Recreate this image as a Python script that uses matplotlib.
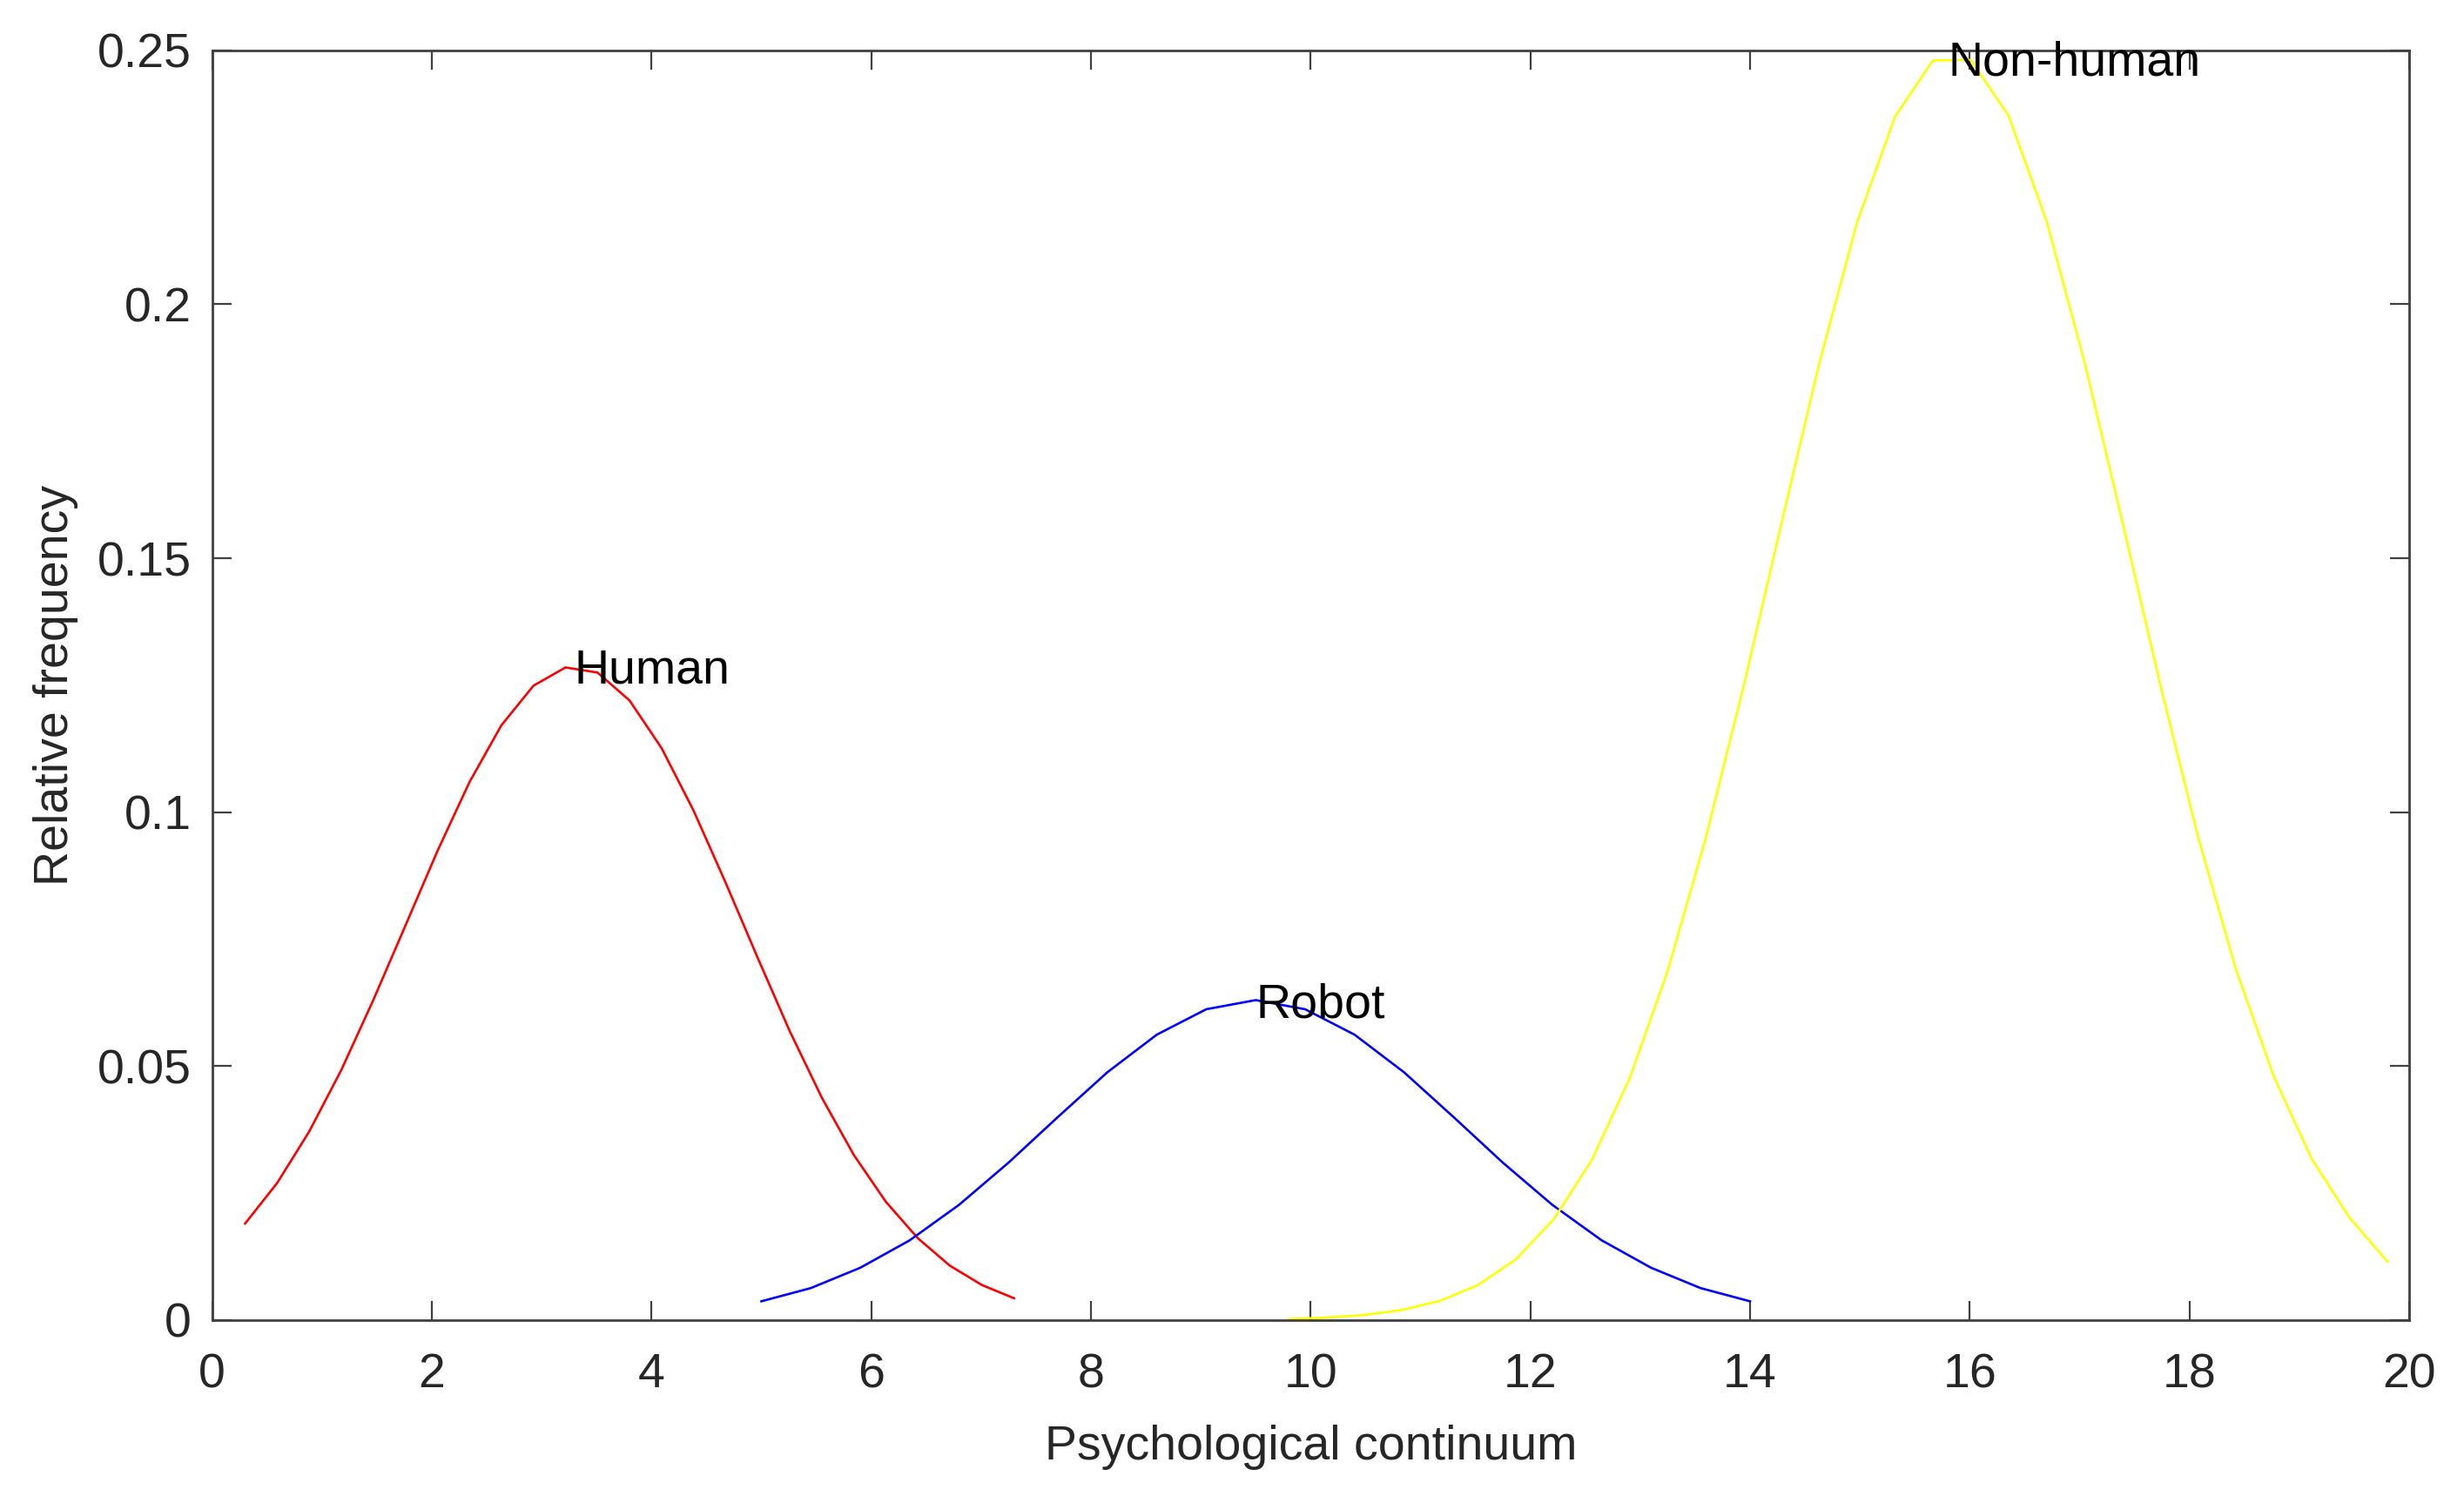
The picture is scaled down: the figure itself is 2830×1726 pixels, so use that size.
import numpy as np
import matplotlib
matplotlib.use('Agg')
import matplotlib.pyplot as plt

plt.rcParams.update({'font.family': ['Liberation Sans', 'DejaVu Sans'], 'font.size': 40})

# values
human_x = [0.300, 0.592, 0.883, 1.175, 1.467, 1.758, 2.050, 2.342, 2.633, 2.925,
           3.217, 3.508, 3.800, 4.092, 4.383, 4.675, 4.967, 5.258, 5.550, 5.842,
           6.133, 6.425, 6.717, 7.008, 7.300]
human_y = [0.0190, 0.0270, 0.0371, 0.0492, 0.0630, 0.0776, 0.0923, 0.1059, 0.1171,
           0.1249, 0.1285, 0.1275, 0.1220, 0.1126, 0.1003, 0.0861, 0.0713, 0.0569,
           0.0438, 0.0325, 0.0233, 0.0161, 0.0107, 0.0069, 0.0043]

robot_x = [5.0, 5.45, 5.9, 6.35, 6.8, 7.25, 7.7, 8.15, 8.6, 9.05, 9.5, 9.95, 10.4,
           10.85, 11.3, 11.75, 12.2, 12.65, 13.1, 13.55, 14.0]
robot_y = [0.0037, 0.0063, 0.0103, 0.0157, 0.0227, 0.0310, 0.0400, 0.0488, 0.0562,
           0.0612, 0.0630, 0.0612, 0.0562, 0.0488, 0.0400, 0.0310, 0.0227, 0.0157,
           0.0103, 0.0063, 0.0037]

nonhuman_x = [9.800, 10.145, 10.490, 10.835, 11.180, 11.525, 11.870, 12.215, 12.560,
              12.905, 13.250, 13.595, 13.940, 14.285, 14.630, 14.975, 15.320, 15.665,
              16.010, 16.355, 16.700, 17.045, 17.390, 17.735, 18.080, 18.425, 18.770,
              19.115, 19.460, 19.805]
nonhuman_y = [0.0002, 0.0005, 0.0010, 0.0020, 0.0038, 0.0069, 0.0120, 0.0199, 0.0315,
              0.0476, 0.0687, 0.0947, 0.1246, 0.1567, 0.1883, 0.2161, 0.2369, 0.2480,
              0.2481, 0.2371, 0.2164, 0.1887, 0.1572, 0.1251, 0.0951, 0.0690, 0.0479,
              0.0317, 0.0201, 0.0115]

labels = ['Human', 'Robot', 'Non-human']
label_pos = [(3.3, 0.1278), (9.5, 0.0619), (15.8, 0.2475)]

fig = plt.figure(figsize=(28.3, 17.26), dpi=100)
ax = fig.add_axes([0.0861, 0.1217, 0.8916, 0.8448])

ax.plot(human_x, human_y, color='#ff0000', lw=1.9)
ax.plot(robot_x, robot_y, color='#0000ff', lw=1.9)
ax.plot(nonhuman_x, nonhuman_y, color='#ffff00', lw=1.9)

for lab, (tx, ty) in zip(labels, label_pos):
    ax.text(tx, ty, lab, ha='left', va='center', color='black', fontsize=40)

ax.set_xlim(0, 20)
ax.set_ylim(0, 0.25)
ax.set_xticks(np.arange(0, 21, 2))
ax.set_yticks([0, 0.05, 0.1, 0.15, 0.2, 0.25])
ax.set_yticklabels(['0', '0.05', '0.1', '0.15', '0.2', '0.25'])

for s in ax.spines.values():
    s.set_color('#404040')
    s.set_linewidth(2.0)
ax.tick_params(direction='in', length=16, width=1.6, color='#404040',
               labelcolor='#262626', top=True, right=True)
ax.tick_params(axis='x', pad=27)
ax.tick_params(axis='y', pad=17)

ax.set_xlabel('Psychological continuum', color='#262626', labelpad=22)
ax.set_ylabel('Relative frequency', color='#262626', labelpad=16)

fig.savefig('out.png', dpi=100)
